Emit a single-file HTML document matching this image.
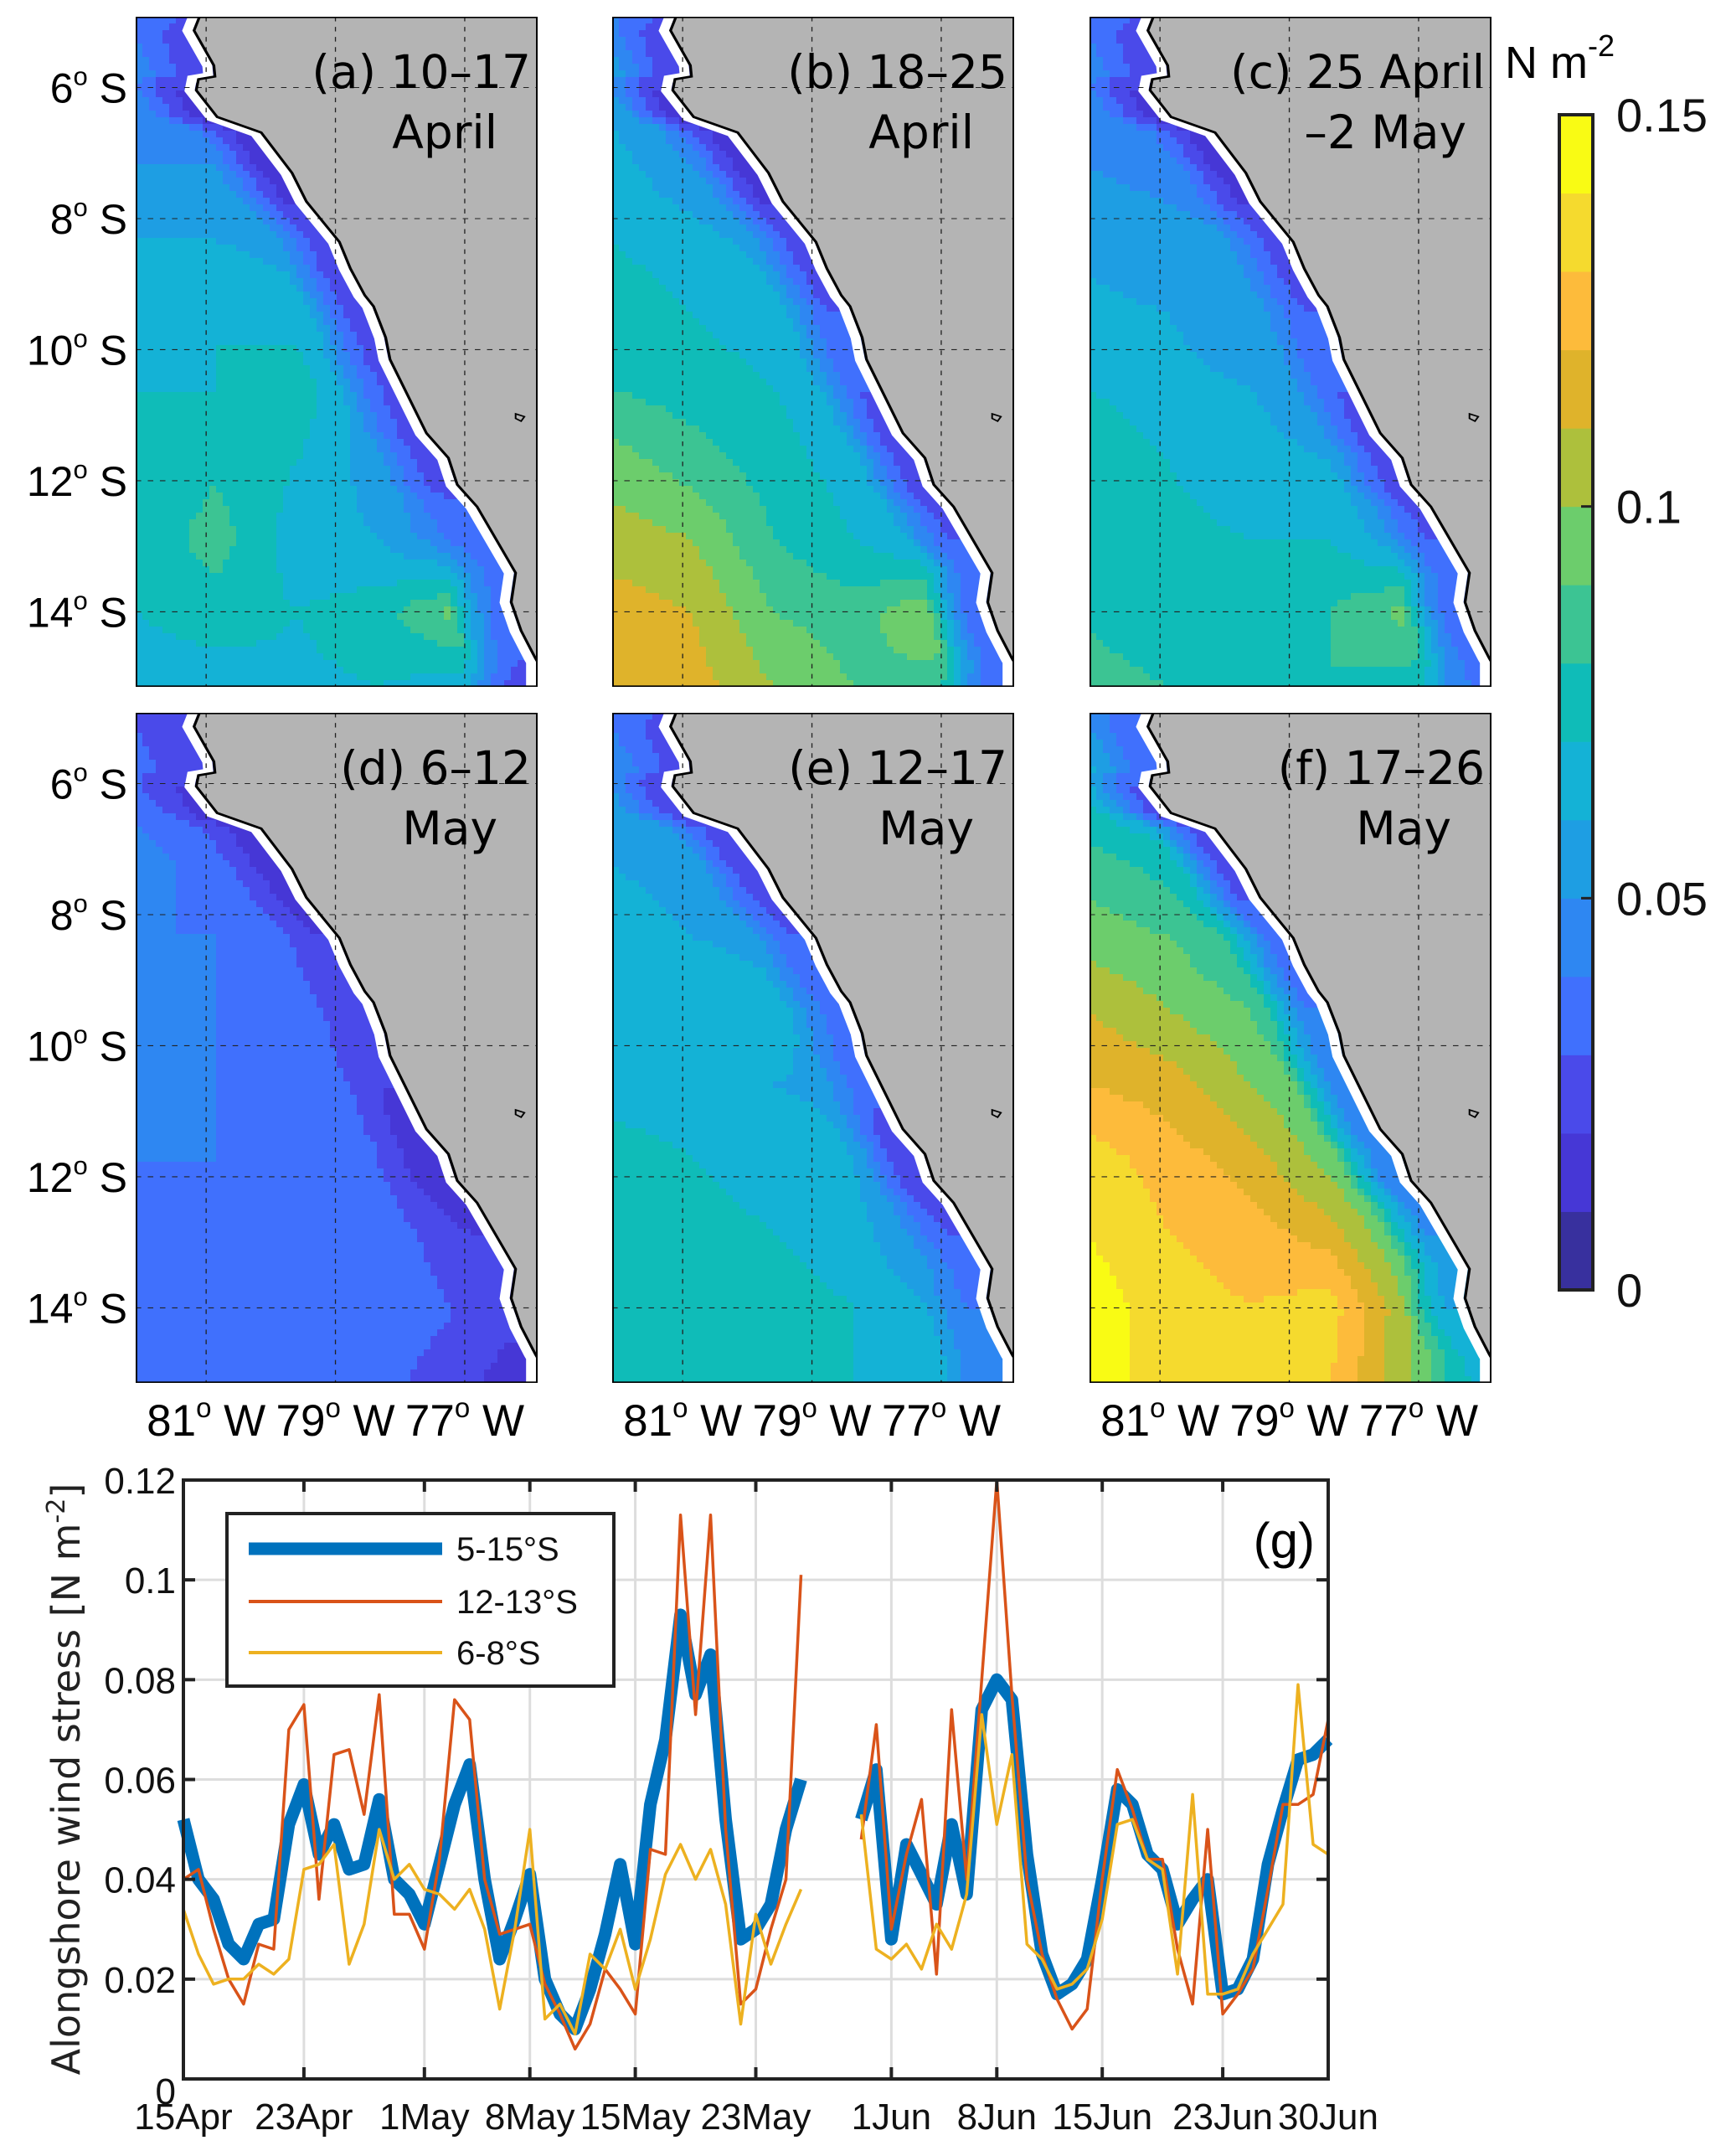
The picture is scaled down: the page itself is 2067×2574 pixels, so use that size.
<!DOCTYPE html>
<html><head><meta charset="utf-8"><style>
html,body{margin:0;padding:0;background:#fff}
svg text{font-family:"Liberation Sans",sans-serif}
</style></head><body>
<svg id="fig" width="2067" height="2569" viewBox="0 0 2067 2569" xmlns="http://www.w3.org/2000/svg">
<g id="maps"></g>
<g id="cbar"></g>
<g id="chart"></g>
</svg>
<script>
// ===== Map data (N m^-2), rows 5S->15S, cols 82W->76W =====
const panelTitles1 = ["(a) 10\u201317","(b) 18\u201325","(c) 25 April","(d) 6\u201312","(e) 12\u201317","(f) 17\u201326"];
const panelTitles2 = ["April","April","\u20132 May","May","May","May"];
const gridA = [[0.04,0.03,0.02,0.02,0.02,0.02],[0.045,0.035,0.02,0.02,0.02,0.02],[0.05,0.05,0.03,0.02,0.02,0.02],[0.06,0.06,0.055,0.03,0.02,0.02],[0.065,0.07,0.065,0.04,0.02,0.02],[0.07,0.07,0.078,0.05,0.02,0.02],[0.07,0.078,0.07,0.055,0.03,0.02],[0.072,0.085,0.065,0.06,0.04,0.02],[0.07,0.075,0.07,0.075,0.095,0.03],[0.065,0.065,0.068,0.07,0.065,0.03]];
const gridB = [[0.045,0.025,0.02,0.02,0.02,0.02],[0.055,0.035,0.02,0.02,0.02,0.02],[0.065,0.05,0.035,0.02,0.02,0.02],[0.07,0.065,0.055,0.035,0.02,0.02],[0.075,0.07,0.065,0.045,0.02,0.02],[0.08,0.075,0.07,0.06,0.03,0.02],[0.095,0.085,0.075,0.065,0.04,0.02],[0.105,0.1,0.08,0.07,0.055,0.03],[0.115,0.11,0.09,0.085,0.1,0.04],[0.118,0.115,0.1,0.09,0.085,0.04]];
const gridC = [[0.04,0.03,0.02,0.02,0.02,0.02],[0.045,0.035,0.02,0.02,0.02,0.02],[0.05,0.045,0.035,0.02,0.02,0.02],[0.058,0.055,0.05,0.035,0.02,0.02],[0.062,0.06,0.055,0.04,0.02,0.02],[0.07,0.062,0.06,0.05,0.03,0.02],[0.08,0.07,0.065,0.06,0.04,0.02],[0.08,0.072,0.07,0.07,0.05,0.025],[0.078,0.072,0.075,0.08,0.095,0.035],[0.085,0.08,0.08,0.08,0.075,0.04]];
const gridD = [[0.03,0.02,0.02,0.02,0.02,0.02],[0.035,0.025,0.02,0.02,0.02,0.02],[0.045,0.035,0.025,0.02,0.02,0.02],[0.04,0.04,0.035,0.025,0.02,0.02],[0.04,0.04,0.035,0.03,0.02,0.02],[0.04,0.04,0.035,0.033,0.02,0.02],[0.04,0.04,0.035,0.03,0.015,0.02],[0.038,0.036,0.032,0.035,0.025,0.02],[0.038,0.038,0.036,0.036,0.03,0.02],[0.033,0.033,0.033,0.033,0.025,0.015]];
const gridE = [[0.04,0.03,0.02,0.02,0.02,0.02],[0.05,0.04,0.025,0.02,0.02,0.02],[0.06,0.055,0.04,0.02,0.02,0.02],[0.065,0.06,0.055,0.04,0.02,0.02],[0.065,0.07,0.065,0.05,0.02,0.02],[0.065,0.065,0.06,0.058,0.035,0.02],[0.075,0.07,0.065,0.06,0.03,0.02],[0.08,0.075,0.07,0.065,0.045,0.02],[0.075,0.07,0.075,0.07,0.06,0.035],[0.075,0.07,0.07,0.07,0.065,0.04]];
const gridF = [[0.05,0.035,0.02,0.02,0.02,0.02],[0.065,0.05,0.03,0.02,0.02,0.02],[0.085,0.075,0.05,0.03,0.02,0.02],[0.095,0.09,0.075,0.05,0.02,0.02],[0.11,0.1,0.09,0.065,0.03,0.02],[0.12,0.115,0.1,0.085,0.055,0.03],[0.135,0.125,0.115,0.095,0.07,0.04],[0.14,0.13,0.125,0.115,0.085,0.05],[0.145,0.135,0.13,0.135,0.1,0.07],[0.145,0.135,0.13,0.13,0.1,0.08]];
const grids = [gridA,gridB,gridC,gridD,gridE,gridF];
// near-coast values per row (5S->15S)
const coastA = [0.03,0.02,0.015,0.025,0.025,0.03,0.025,0.035,0.04,0.025];
const coastB = [0.03,0.02,0.015,0.025,0.03,0.03,0.025,0.03,0.035,0.035];
const coastC = [0.03,0.02,0.015,0.025,0.03,0.03,0.025,0.03,0.035,0.04];
const coastD = [0.025,0.02,0.015,0.02,0.02,0.02,0.012,0.02,0.025,0.015];
const coastE = [0.03,0.025,0.02,0.03,0.035,0.035,0.02,0.03,0.04,0.04];
const coastF = [0.035,0.03,0.025,0.035,0.04,0.045,0.04,0.05,0.06,0.07];
const coastVals = [coastA,coastB,coastC,coastD,coastE,coastF];
const latTicks = [6,8,10,12,14];
const lonTicks = [81,79,77];
const cbarTicks = [0,0.05,0.1,0.15];

// ===== Chart data =====
const dateLabels = ["15Apr","23Apr","1May","8May","15May","23May","1Jun","8Jun","15Jun","23Jun","30Jun"];
const dateDays = [0,8,16,23,30,38,47,54,61,69,76];
const yTicks = [0,0.02,0.04,0.06,0.08,0.1,0.12];
const yTickLabels = ["0","0.02","0.04","0.06","0.08","0.1","0.12"];
const seriesNames = ["5-15\u00b0S","12-13\u00b0S","6-8\u00b0S"];
const s515 = [0.052,0.04,0.036,0.027,0.024,0.031,0.032,0.051,0.059,0.045,0.051,0.042,0.043,0.056,0.040,0.037,0.031,0.043,0.055,0.063,0.04,0.024,0.032,0.041,0.02,0.013,0.01,0.018,0.029,0.043,0.027,0.055,0.068,0.093,0.077,0.085,0.052,0.028,0.03,0.035,0.05,0.06,null,null,null,0.052,0.062,0.028,0.047,0.041,0.035,0.051,0.037,0.074,0.08,0.076,0.045,0.025,0.017,0.019,0.024,0.04,0.058,0.055,0.045,0.042,0.031,0.036,0.04,0.017,0.018,0.024,0.043,0.054,0.064,0.065,0.068];
const s1213 = [0.04,0.042,0.03,0.02,0.015,0.027,0.026,0.07,0.075,0.036,0.065,0.066,0.053,0.077,0.033,0.033,0.026,0.044,0.076,0.072,0.04,0.029,0.03,0.031,0.019,0.013,0.006,0.011,0.022,0.018,0.013,0.046,0.045,0.113,0.073,0.113,0.05,0.015,0.018,0.03,0.04,0.101,null,null,null,0.048,0.071,0.03,0.045,0.056,0.021,0.074,0.04,0.08,0.12,0.077,0.04,0.025,0.016,0.01,0.014,0.04,0.062,0.054,0.044,0.044,0.026,0.015,0.05,0.013,0.017,0.022,0.038,0.055,0.055,0.057,0.072];
const s68 = [0.034,0.025,0.019,0.02,0.02,0.023,0.021,0.024,0.042,0.043,0.047,0.023,0.031,0.05,0.04,0.043,0.038,0.037,0.034,0.038,0.03,0.014,0.03,0.05,0.012,0.015,0.009,0.025,0.022,0.03,0.018,0.028,0.041,0.047,0.04,0.046,0.035,0.011,0.033,0.023,0.031,0.038,null,null,null,0.053,0.026,0.024,0.027,0.022,0.031,0.026,0.037,0.073,0.051,0.065,0.027,0.024,0.018,0.019,0.022,0.032,0.051,0.052,0.044,0.042,0.021,0.057,0.017,0.017,0.018,0.025,0.03,0.035,0.079,0.047,0.045];

const NS="http://www.w3.org/2000/svg";
function mk(tag,attrs,parent){const e=document.createElementNS(NS,tag);for(const k in attrs)e.setAttribute(k,attrs[k]);if(parent)parent.appendChild(e);return e;}

const bandColors=["#38309e","#4637d6","#4a4aea","#4070fd","#2e87f2","#1e9ee3","#14b2d6","#0fbcb8","#3cc493","#6ccd6c","#adc03c","#dfb32b","#fdbb3b","#f5da2e","#f9fb14"];
function levelColor(v){let k=Math.floor(v/0.01+1e-6);k=Math.max(0,Math.min(14,k));return bandColors[k];}

// ===== Maps =====
const maps=document.getElementById('maps');
const colX=[162,731,1301], rowY=[20,851], PW=480, PH=800;
const VW=365, VH=729;
const lonToX=lon=>64+(81-lon)*58.7;
const latToY=lat=>77+(lat-6)*71.3;
const coast=[[58,0],[53,15],[71,53],[72,65],[57,68],[55,80],[74,109],[114,126],[142,170],[155,201],[185,245],[195,274],[208,303],[216,315],[227,349],[231,373],[264,453],[284,480],[292,509],[310,533],[345,605],[341,637],[350,668],[363,698],[365,702],[365,729]];
const coastStr=coast.map(p=>p.join(',')).join(' ');
function coastAt(y){for(let k=1;k<coast.length;k++){if(y<=coast[k][1]){const a=coast[k-1],b=coast[k];const f=(y-a[1])/Math.max(1e-6,b[1]-a[1]);return a[0]+(b[0]-a[0])*f;}}return 365;}
grids.forEach((g,pi)=>{
  const px=colX[pi%3], py=rowY[Math.floor(pi/3)];
  const svg=mk('svg',{x:px,y:py,width:PW,height:PH,viewBox:`0 0 ${VW} ${VH}`,preserveAspectRatio:'none'},maps);
  
  
  const R=g.length,C=g[0].length,NX=60,NY=100;
  const cv=coastVals[pi];
  for(let j=0;j<NY;j++){
    const yc=(j+0.5)*VH/NY, cx=coastAt(yc);
    const fyC=yc/VH*(cv.length-1), jc=Math.min(cv.length-2,Math.floor(fyC)), dc=fyC-jc;
    const vc=cv[jc]*(1-dc)+cv[jc+1]*dc;
    for(let i=0;i<NX;i++){
      const xc=(i+0.5)*VW/NX;
      const fx=(i+0.5)/NX*(C-1), fy=(j+0.5)/NY*(R-1);
      const i0=Math.floor(fx),j0=Math.floor(fy),i1=Math.min(C-1,i0+1),j1=Math.min(R-1,j0+1),dx=fx-i0,dy=fy-j0;
      let v=g[j0][i0]*(1-dx)*(1-dy)+g[j0][i1]*dx*(1-dy)+g[j1][i0]*(1-dx)*dy+g[j1][i1]*dx*dy;
      const dist=cx-xc;
      if(dist<60){const w=Math.max(0,Math.min(1,(60-dist)/40));v=v*(1-w)+vc*w;}
      mk('rect',{x:i*VW/NX,y:j*VH/NY,width:VW/NX+0.4,height:VH/NY+0.4,fill:levelColor(v)},svg);
    }
  }
  mk('polyline',{points:coast.map(p=>(p[0]-6)+','+p[1]).join(' '),fill:'none',stroke:'#fff','stroke-width':9},svg);
  const land=mk('polygon',{points:coastStr+' 365,0',fill:'#b4b4b4'},svg);
  
  
  mk('polygon',{points:'345,432 353,435 350,440 345,437',fill:'none',stroke:'#000','stroke-width':1.5},svg);
  lonTicks.forEach(l=>mk('line',{x1:lonToX(l),x2:lonToX(l),y1:0,y2:VH,stroke:'#222','stroke-width':1,'stroke-dasharray':'5,6'},svg));
  latTicks.forEach(l=>mk('line',{x1:0,x2:VW,y1:latToY(l),y2:latToY(l),stroke:'#222','stroke-width':1,'stroke-dasharray':'5,6'},svg));
  const cl=mk('polyline',{points:coast.slice(0,-1).map(p=>p.join(',')).join(' '),fill:'none',stroke:'#000','stroke-width':2.5},svg);
  
  
  mk('rect',{x:0,y:0,width:VW,height:VH,fill:'none',stroke:'#000','stroke-width':3},svg);
  const t1=mk('text',{x:px+PW-8,y:py+85,'text-anchor':'end','font-size':55,fill:'#000',style:'font-family:"DejaVu Sans",sans-serif'},maps);
  t1.textContent=panelTitles1[pi];
  
  
  const t2=mk('text',{x:px+PW-(pi===2?30:48),y:py+157,'text-anchor':'end','font-size':55,fill:'#000',style:'font-family:"DejaVu Sans",sans-serif'},maps);
  t2.textContent=panelTitles2[pi];
  
  
  if(pi%3===0){
    latTicks.forEach(l=>{
      const t=mk('text',{x:px-10,y:py+latToY(l)*PH/VH+18,'text-anchor':'end','font-size':50,fill:'#000'},maps);
      
      
      t.innerHTML=`${l}<tspan font-size="31" dy="-21">o</tspan><tspan dy="21"> S</tspan>`;
    });
  }
  if(pi>=3){
    lonTicks.forEach(l=>{
      const t=mk('text',{x:px+lonToX(l)*PW/VW,y:py+PH+63,'text-anchor':'middle','font-size':53,fill:'#000'},maps);
      
      
      t.innerHTML=`${l}<tspan font-size="33" dy="-22">o</tspan><tspan dy="22"> W</tspan>`;
    });
  }
});

// ===== Colorbar =====
const cb=document.getElementById('cbar');
const cbX=1862,cbW=40,cbT=137,cbB=1540;
const cbY=v=>cbB-(v/0.15)*(cbB-cbT);
for(let k=0;k<15;k++){const v0=k*0.01,v1=(k+1)*0.01;
  const r=mk('rect',{x:cbX,y:cbY(v1),width:cbW,height:cbY(v0)-cbY(v1)+0.5,fill:levelColor(v0+0.005)},cb);
  
  
}
mk('rect',{x:cbX,y:cbT,width:cbW,height:cbB-cbT,fill:'none',stroke:'#222','stroke-width':4},cb);
cbarTicks.forEach((v,i)=>{
  mk('line',{x1:cbX+cbW-14,x2:cbX+cbW,y1:cbY(v),y2:cbY(v),stroke:'#222','stroke-width':3},cb);
  const t=mk('text',{x:1930,y:cbY(v)+20,'font-size':56,fill:'#111'},cb);
  t.textContent=["0","0.05","0.1","0.15"][i];
  
  
});
const cu=mk('text',{x:1797,y:93,'font-size':54,fill:'#000'},cb);
cu.innerHTML='N m<tspan font-size="36" dy="-26">-2</tspan>';



// ===== Line chart =====
const ch=document.getElementById('chart');
const X0=219,X1=1586,Y0=2482,Y1=1767;
const xs=d=>X0+d*(X1-X0)/76;
const ys=v=>Y0-v/0.12*(Y0-Y1);
dateDays.forEach(d=>mk('line',{x1:xs(d),x2:xs(d),y1:Y1,y2:Y0,stroke:'#ddd','stroke-width':3},ch));
yTicks.forEach(v=>mk('line',{x1:X0,x2:X1,y1:ys(v),y2:ys(v),stroke:'#ddd','stroke-width':3},ch));
function drawSeries(arr,color,w,name){
  let segs=[],cur=[];
  arr.forEach((v,d)=>{if(v===null){if(cur.length)segs.push(cur);cur=[];}else cur.push(xs(d).toFixed(1)+','+ys(v).toFixed(1));});
  if(cur.length)segs.push(cur);
  segs.forEach(s=>{const p=mk('polyline',{points:s.join(' '),fill:'none',stroke:color,'stroke-width':w,'stroke-linejoin':'round'},ch);
    
    });
}
drawSeries(s515,'#0072bd',15,'series-5-15S');
drawSeries(s1213,'#d95319',3.5,'series-12-13S');
drawSeries(s68,'#edb120',3.5,'series-6-8S');
mk('rect',{x:X0,y:Y1,width:X1-X0,height:Y0-Y1,fill:'none',stroke:'#222','stroke-width':4},ch);
dateDays.forEach((d,i)=>{
  mk('line',{x1:xs(d),x2:xs(d),y1:Y0,y2:Y0-14,stroke:'#222','stroke-width':4},ch);
  mk('line',{x1:xs(d),x2:xs(d),y1:Y1,y2:Y1+14,stroke:'#222','stroke-width':4},ch);
  const t=mk('text',{x:xs(d),y:2542,'text-anchor':'middle','font-size':44,fill:'#111'},ch);
  t.textContent=dateLabels[i];
  
  
});
yTicks.forEach((v,i)=>{
  mk('line',{x1:X0,x2:X0+14,y1:ys(v),y2:ys(v),stroke:'#222','stroke-width':4},ch);
  mk('line',{x1:X1,x2:X1-14,y1:ys(v),y2:ys(v),stroke:'#222','stroke-width':4},ch);
  const t=mk('text',{x:210,y:ys(v)+(i===0?30:16),'text-anchor':'end','font-size':44,fill:'#111'},ch);
  t.textContent=yTickLabels[i];
  
  
});
const yl=mk('text',{x:0,y:0,transform:'translate(95,2124) rotate(-90)','text-anchor':'middle','font-size':46,fill:'#222',style:'font-family:"DejaVu Sans",sans-serif'},ch);
yl.innerHTML='Alongshore wind stress [N m<tspan font-size="30" dy="-18">-2</tspan><tspan dy="18">]</tspan>';


const gl=mk('text',{x:1570,y:1860,'text-anchor':'end','font-size':60,fill:'#000'},ch);
gl.textContent='(g)';


const lg=mk('g',{},ch);


mk('rect',{x:271,y:1807,width:462,height:206,fill:'#fff',stroke:'#222','stroke-width':4},lg);
const lcols=['#0072bd','#d95319','#edb120'],lws=[15,4,4],lys=[1849,1912,1973];
seriesNames.forEach((n,i)=>{
  mk('line',{x1:297,x2:528,y1:lys[i],y2:lys[i],stroke:lcols[i],'stroke-width':lws[i]},lg);
  const t=mk('text',{x:545,y:lys[i]+14,'font-size':40,fill:'#111'},lg);
  t.textContent=n;
  
  
});
</script>
</body></html>
